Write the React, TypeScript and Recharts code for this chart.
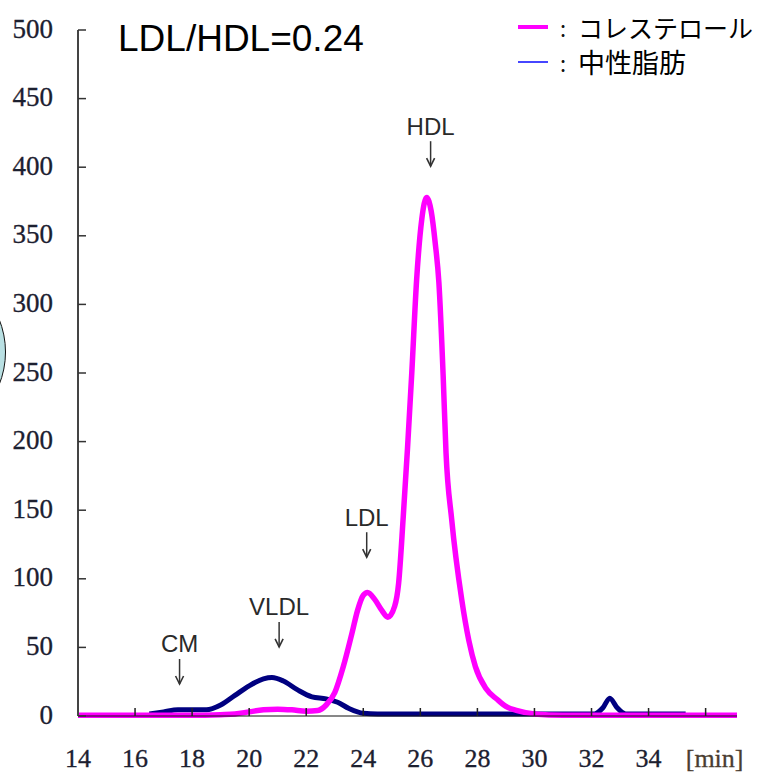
import React from 'react';
import { LineChart, Line, XAxis, YAxis, ReferenceDot } from 'recharts';

// elution time [min] and level for each trace
const cholTime = [14, 16, 18, 19, 19.5, 20, 20.5, 21, 21.5, 22, 22.4, 22.7, 23.0, 23.3, 23.6, 23.8, 24.0, 24.15, 24.4, 24.65, 24.86, 25.1, 25.24, 25.4, 25.55, 25.7, 25.87, 26.05, 26.22, 26.38, 26.52, 26.65, 26.8, 26.9, 27.1, 27.45, 27.7, 27.93, 28.3, 28.7, 29.0, 29.4, 30, 31, 37.1];
const cholValues = [0.5, 0.5, 0.5, 1, 1.5, 3, 4.5, 5, 4.5, 3.5, 4, 8, 17, 36, 60, 77, 88, 90, 85, 77, 72, 80, 97, 145, 195, 250, 318, 362, 378, 368, 345, 316, 248, 192, 143, 85, 55, 36, 20, 12, 7, 4, 1.5, 0.5, 0.5];

const tgTime = [16.5, 17, 17.5, 18, 18.5, 19, 19.5, 20, 20.5, 20.8, 21.2, 21.7, 22.2, 22.7, 23.1, 23.5, 24, 24.5, 32.1, 32.4, 32.64, 32.9, 33.2, 35.3];
const tgValues = [1.5, 3, 4.5, 4.5, 4.5, 8, 15, 22, 27, 28, 25.5, 19, 14, 12.5, 10, 5.5, 2, 1.5, 1.5, 6, 13, 6, 1.5, 1.5];

const xTicks = [14, 16, 18, 20, 22, 24, 26, 28, 30, 32, 34, 36];
const yTicks = [0, 50, 100, 150, 200, 250, 300, 350, 400, 450, 500];

const peakLabels = ['CM', 'VLDL', 'LDL', 'HDL'];
const peakTimes = [17.56, 21.05, 24.12, 26.36];
const peakLevels = [22.6, 49.6, 115, 400];

const seriesNames = ['コレステロール', '中性脂肪'];
const legendColors = ['#ff00ff', '#4646ff'];
const ratioText = 'LDL/HDL=0.24';

const cholData = cholTime.map((t, i) => ({ t, v: cholValues[i] }));
const tgData = tgTime.map((t, i) => ({ t, v: tgValues[i] }));

const tickFont = '"Liberation Serif", "Times New Roman", serif';

const XTick = (props: any) => {
  const { x, y, payload } = props;
  const last = payload.value === 36;
  return (
    <text x={x + (last ? 9 : 0)} y={y} dy="0.71em" textAnchor="middle"
      fontFamily={tickFont} fontSize={26} fill={last ? '#4a3c30' : '#1c2030'}
      stroke={last ? '#4a3c30' : '#1c2030'} strokeWidth={0.3}>
      {last ? '[min]' : payload.value}
    </text>
  );
};

const Pointer = (props: any) => {
  const { viewBox, text } = props;
  const x = viewBox.x;
  const y = viewBox.y;
  return (
    <g>
      <text x={x} y={y - 41} dy="0.35em" textAnchor="middle" fontSize={24}
        fontFamily='"Liberation Sans", Arial, sans-serif' fill="#2a2a2a">{text}</text>
      <line x1={x} y1={y - 26} x2={x} y2={y - 1} stroke="#333" strokeWidth={1.5} />
      <polyline points={`${x - 4},${y - 9} ${x},${y - 1} ${x + 4},${y - 9}`}
        fill="none" stroke="#333" strokeWidth={1.6} />
    </g>
  );
};

export default function App() {
  return (
    <div style={{ position: 'relative', width: 769, height: 780, overflow: 'hidden', background: '#fff' }}>
      <style>{'body{margin:0}'}</style>
      <div style={{
        position: 'absolute', left: -170, top: 264, width: 176, height: 176,
        borderRadius: '50%', border: '1.5px solid #111', background: '#b9e0e3', boxSizing: 'border-box'
      }} />
      <LineChart width={769} height={780} margin={{ top: 30, right: 32, bottom: 0, left: 0 }}>
        <XAxis dataKey="t" type="number" domain={[14, 37]} ticks={xTicks} height={64}
          allowDuplicatedCategory={false}
          axisLine={{ stroke: '#111', strokeWidth: 1 }}
          tickLine={{ stroke: '#222', strokeWidth: 1.5 }}
          tickSize={-8} tickMargin={41} tick={<XTick />} interval={0} />
        <YAxis type="number" domain={[0, 500]} ticks={yTicks} width={78} interval={0}
          axisLine={{ stroke: '#444', strokeWidth: 2 }}
          tickLine={{ stroke: '#333', strokeWidth: 1.5 }}
          tickSize={-8} tickMargin={33}
          tick={{ fontFamily: tickFont, fontSize: 27, fill: '#1c2030', stroke: '#1c2030', strokeWidth: 0.3, dy: -2 }} />
        <Line data={tgData} dataKey="v" type="monotone" stroke="#000080" strokeWidth={5}
          dot={false} isAnimationActive={false} />
        <Line data={cholData} dataKey="v" type="monotone" stroke="#ff00ff" strokeWidth={5.5}
          dot={false} isAnimationActive={false} />
        {peakLabels.map((name, i) => (
          <ReferenceDot key={name} x={peakTimes[i]} y={peakLevels[i]} r={0}
            fill="none" stroke="none" ifOverflow="visible"
            label={(p: any) => <Pointer {...p} text={name} />} />
        ))}
      </LineChart>
      <div style={{
        position: 'absolute', left: 118, top: 20, fontSize: 37, lineHeight: '37px',
        fontFamily: '"Liberation Sans", Arial, sans-serif', color: '#000'
      }}>{ratioText}</div>
      <div style={{ position: 'absolute', left: 518, top: 9, fontFamily: '"Noto Sans CJK JP", sans-serif' }}>
        {seriesNames.map((name, i) => (
          <div key={name} style={{ display: 'flex', alignItems: 'center', height: 35 }}>
            <span style={{ width: 30, height: i === 0 ? 4 : 2, background: legendColors[i], display: 'inline-block' }} />
            <span style={{ width: 30, textAlign: 'center', fontSize: 22, color: '#111' }}>:</span>
            <span style={{ fontSize: i === 0 ? 25 : 27, color: '#000', whiteSpace: 'nowrap' }}>{name}</span>
          </div>
        ))}
      </div>
    </div>
  );
}
